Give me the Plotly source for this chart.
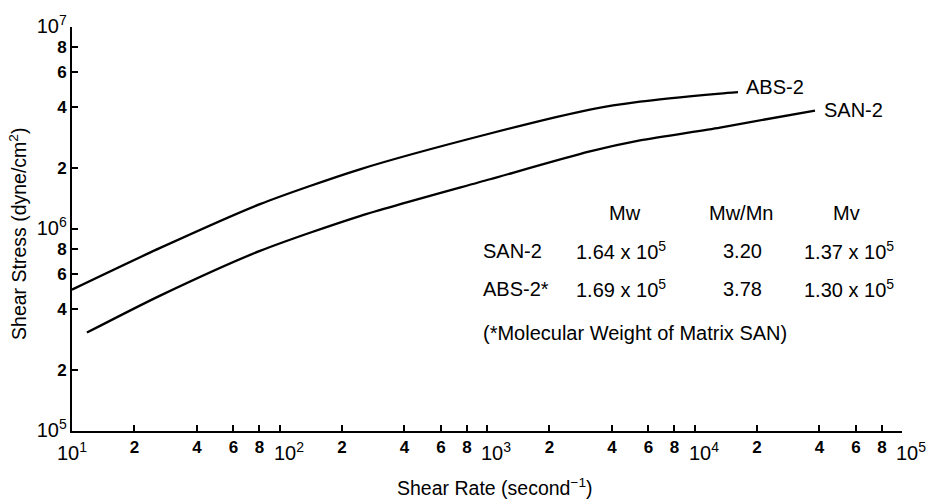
import math
import plotly.graph_objects as go

# ---- data ----
abs2_rate = [10, 26.6, 80.5, 244, 1034, 3133, 5458, 13270, 16200]
abs2_stress = [5.01e5, 8.06e5, 1.328e6, 1.975e6, 2.97e6, 3.90e6, 4.27e6, 4.68e6, 4.76e6]

san2_rate = [11.8, 26.6, 80.5, 244, 1034, 3133, 5458, 13270, 38080]
san2_stress = [3.07e5, 4.68e5, 7.79e5, 1.159e6, 1.763e6, 2.422e6, 2.745e6, 3.18e6, 3.86e6]

DEC = "<span style='font-size:20px;font-weight:normal'>10<sup>%d</sup></span>"
x_tickvals = [10, 20, 40, 60, 80, 100, 200, 400, 600, 800, 1000, 2000, 4000, 6000, 8000,
              10000, 20000, 40000, 60000, 80000, 100000]
x_ticktext = ["", "2", "4", "6", "8", "", "2", "4", "6", "8",
              "", "2", "4", "6", "8", "", "2", "4", "6", "8", ""]
# decade labels drawn below the axis, shifted right as in the reference
x_decades = [10, 100, 1000, 10000]
x_decade_text = ["10<sup>1</sup>", "10<sup>2</sup>", "10<sup>3</sup>", "10<sup>4</sup>"]
x_end_text = "10<sup>5</sup>"
y_tickvals = [1e5, 2e5, 4e5, 6e5, 8e5, 1e6, 2e6, 4e6, 6e6, 8e6, 1e7]
y_ticktext = [DEC % 5, "2", "4", "6", "8", DEC % 6, "2", "4", "6", "8", DEC % 7]

table_header = ["Mw", "Mw/Mn", "Mv"]
table_rows = ["SAN-2", "ABS-2*"]
table_mw = ["1.64 x 10<sup>5</sup>", "1.69 x 10<sup>5</sup>"]
table_ratio = ["3.20", "3.78"]
table_mv = ["1.37 x 10<sup>5</sup>", "1.30 x 10<sup>5</sup>"]
footnote = "(*Molecular Weight of Matrix SAN)"

# ---- figure ----
W, H = 934, 501
L, R, T, B = 72, 32, 25, 70
FONT = "Liberation Sans, Arial, Helvetica, sans-serif"
X_RANGE = [1, 5]


def px(xp):
    return (xp - L) / (W - L - R)


def py(yp):
    return (H - B - yp) / (H - T - B)


fig = go.Figure()
line = dict(color="black", width=2.3, shape="spline", smoothing=0.7)
fig.add_trace(go.Scatter(x=abs2_rate, y=abs2_stress, mode="lines", line=line,
                         name="ABS-2", showlegend=False, hoverinfo="skip"))
fig.add_trace(go.Scatter(x=san2_rate, y=san2_stress, mode="lines", line=line,
                         name="SAN-2", showlegend=False, hoverinfo="skip"))

lf = dict(size=20, color="black", family=FONT)
df = dict(size=20, color="black", family=FONT)
ann = []
# curve end labels, anchored at the end of each curve
ann.append(dict(x=math.log10(abs2_rate[-1]), y=math.log10(abs2_stress[-1]),
                xref="x", yref="y", text="ABS-2", showarrow=False,
                xanchor="left", yanchor="middle", xshift=6, yshift=5, font=lf))
ann.append(dict(x=math.log10(san2_rate[-1]), y=math.log10(san2_stress[-1]),
                xref="x", yref="y", text="SAN-2", showarrow=False,
                xanchor="left", yanchor="middle", xshift=7, yshift=1, font=lf))

for i, (dv, dt) in enumerate(zip(x_decades, x_decade_text)):
    ann.append(dict(x=math.log10(dv), y=py(452), xref="x", yref="paper",
                    text=dt, showarrow=False, xanchor="center", yanchor="middle",
                    xshift=0 if i == 0 else 9, font=df))
# last decade label, at the right end of the x axis (end of the axis domain)
ann.append(dict(x=1, y=py(452), xref="x domain", yref="paper",
                text=x_end_text, showarrow=False, xanchor="left", yanchor="middle",
                xshift=-8, font=df))

tf = dict(size=20, color="black", family=FONT)
head_x = [625, 741, 846]
for cx, h in zip(head_x, table_header):
    ann.append(dict(x=px(cx), y=py(212), xref="paper", yref="paper", text=h,
                    showarrow=False, xanchor="center", yanchor="middle", font=tf))
row_y = [250, 288]
for i, ry in enumerate(row_y):
    ann.append(dict(x=px(481), y=py(ry), xref="paper", yref="paper", text=table_rows[i],
                    showarrow=False, xanchor="left", yanchor="middle", font=tf))
    ann.append(dict(x=px(574), y=py(ry), xref="paper", yref="paper", text=table_mw[i],
                    showarrow=False, xanchor="left", yanchor="middle", font=tf))
    ann.append(dict(x=px(721), y=py(ry), xref="paper", yref="paper", text=table_ratio[i],
                    showarrow=False, xanchor="left", yanchor="middle", font=tf))
    ann.append(dict(x=px(802), y=py(ry), xref="paper", yref="paper", text=table_mv[i],
                    showarrow=False, xanchor="left", yanchor="middle", font=tf))
ann.append(dict(x=px(481), y=py(333), xref="paper", yref="paper", text=footnote,
                showarrow=False, xanchor="left", yanchor="middle", font=tf))

# axis titles
ann.append(dict(x=px(18), y=py(233), xref="paper", yref="paper",
                text="Shear Stress (dyne/cm<sup>2</sup>)", textangle=-90, showarrow=False,
                xanchor="center", yanchor="middle",
                font=dict(size=19.5, color="black", family=FONT)))
ann.append(dict(x=px(495), y=py(487), xref="paper", yref="paper",
                text="Shear Rate (second<sup>\u22121</sup>)", showarrow=False,
                xanchor="center", yanchor="middle",
                font=dict(size=19.5, color="black", family=FONT)))

fig.update_layout(
    width=W, height=H,
    margin=dict(l=L, r=R, t=T, b=B),
    paper_bgcolor="white", plot_bgcolor="white",
    annotations=ann,
    showlegend=False,
)
fig.update_xaxes(type="log", range=X_RANGE, tickmode="array", tickvals=x_tickvals,
                 ticktext=x_ticktext, ticks="inside", ticklen=6, tickwidth=1.6,
                 tickangle=0, ticklabeloverflow="allow",
                 tickcolor="black", showline=True, linecolor="black", linewidth=1.8,
                 showgrid=False, zeroline=False, mirror=False,
                 tickfont=dict(size=17, color="black", family=FONT, weight="bold"))
fig.update_yaxes(type="log", range=[5, 7], tickmode="array", tickvals=y_tickvals,
                 ticktext=y_ticktext, ticks="inside", ticklen=6, tickwidth=1.6,
                 ticklabeloverflow="allow",
                 tickcolor="black", showline=True, linecolor="black", linewidth=1.8,
                 showgrid=False, zeroline=False, mirror=False,
                 tickfont=dict(size=17, color="black", family=FONT, weight="bold"))

fig.write_html("out.html")
